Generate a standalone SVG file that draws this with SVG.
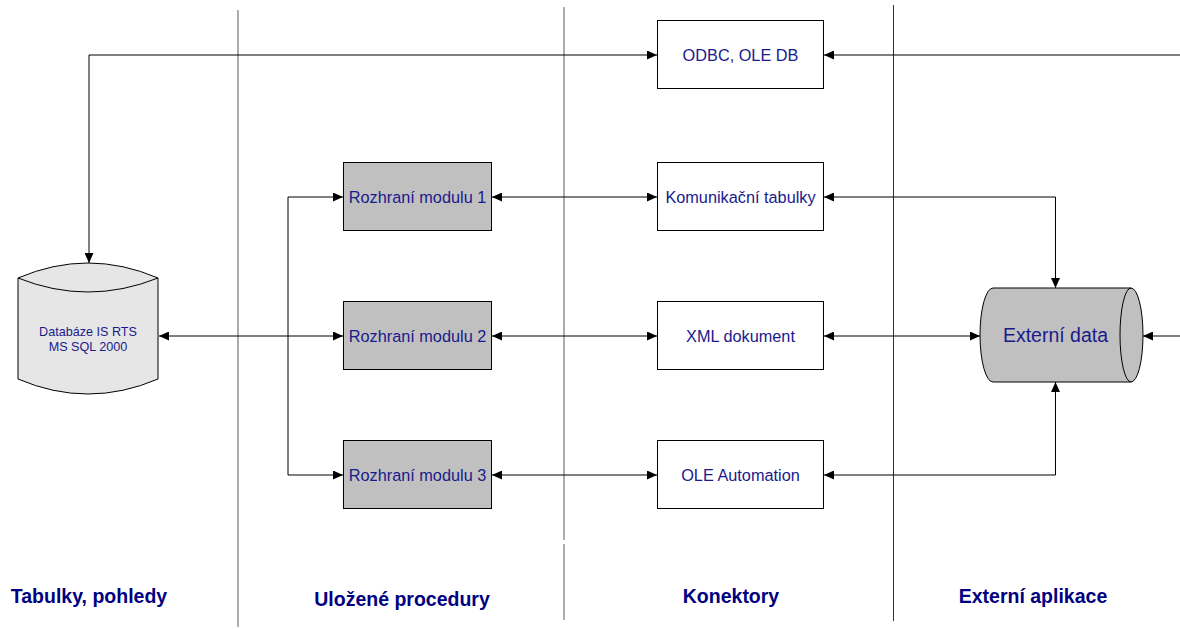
<svg xmlns="http://www.w3.org/2000/svg" width="1180" height="629" viewBox="0 0 1180 629">
<style>
.box{fill:#ffffff;stroke:#000;stroke-width:1}
.grey{fill:#c0c0c0;stroke:#000;stroke-width:1}
.t{font-family:"Liberation Sans",Arial,sans-serif;font-size:16.3px;fill:#1a1a8c;text-anchor:middle}
.lbl{font-family:"Liberation Sans",Arial,sans-serif;font-size:19.5px;font-weight:bold;fill:#000080;text-anchor:middle}
.c{fill:none;stroke:#000;stroke-width:1}
.div{stroke:#777;stroke-width:1.2}
</style>
<defs>
<marker id="ah" markerUnits="userSpaceOnUse" markerWidth="10" markerHeight="9" refX="10" refY="4.5" orient="auto-start-reverse">
<path d="M0,0 L10,4.5 L0,9 Z" fill="#000"/>
</marker>
</defs>
<rect width="1180" height="629" fill="#fff"/>
<g id="dividers">
<line class="div" x1="238" y1="10" x2="238" y2="627"/>
<line class="div" x1="564" y1="7" x2="564" y2="540"/>
<line class="div" x1="564" y1="544" x2="564" y2="620"/>
<line x1="893.5" y1="5" x2="893.5" y2="621" stroke="#333" stroke-width="1"/>
</g>
<g id="connectors">
<path class="c" d="M89,263 L89,55 L657,55" marker-start="url(#ah)" marker-end="url(#ah)"/>
<path class="c" d="M1180,55 L824,55" marker-end="url(#ah)"/>
<path class="c" d="M159,336 L343,336" marker-start="url(#ah)" marker-end="url(#ah)"/>
<path class="c" d="M343,197 L288,197 L288,475 L343,475" marker-start="url(#ah)" marker-end="url(#ah)"/>
<path class="c" d="M492,197 L657,197" marker-start="url(#ah)" marker-end="url(#ah)"/>
<path class="c" d="M492,336 L657,336" marker-start="url(#ah)" marker-end="url(#ah)"/>
<path class="c" d="M492,475 L657,475" marker-start="url(#ah)" marker-end="url(#ah)"/>
<path class="c" d="M824,197 L1055.5,197 L1055.5,288" marker-start="url(#ah)" marker-end="url(#ah)"/>
<path class="c" d="M824,336 L980,336" marker-start="url(#ah)" marker-end="url(#ah)"/>
<path class="c" d="M824,475 L1055.5,475 L1055.5,382" marker-start="url(#ah)" marker-end="url(#ah)"/>
<path class="c" d="M1180,336 L1143,336" marker-end="url(#ah)"/>
</g>
<g id="db">
<path d="M18,278 Q88,248 158,278 L158,379 Q88,409 18,379 Z" fill="#e6e6e6" stroke="#000" stroke-width="1"/>
<path d="M18,278 Q88,306 158,278" fill="none" stroke="#000" stroke-width="1"/>
<text class="t" style="font-size:12.6px" x="88" y="336">Databáze IS RTS</text>
<text class="t" style="font-size:12.6px" x="88" y="351">MS SQL 2000</text>
</g>
<g id="odbc">
<rect class="box" x="657.5" y="20.5" width="166" height="68"/>
<text class="t" x="740.5" y="61">ODBC, OLE DB</text>
</g>
<g id="modul1">
<rect class="grey" x="343.5" y="162.5" width="148" height="68"/>
<text class="t" x="417.5" y="203">Rozhraní modulu 1</text>
</g>
<g id="modul2">
<rect class="grey" x="343.5" y="301.5" width="148" height="68"/>
<text class="t" x="417.5" y="342">Rozhraní modulu 2</text>
</g>
<g id="modul3">
<rect class="grey" x="343.5" y="440.5" width="148" height="68"/>
<text class="t" x="417.5" y="481">Rozhraní modulu 3</text>
</g>
<g id="komunikacni">
<rect class="box" x="657.5" y="162.5" width="166" height="68"/>
<text class="t" x="740.5" y="203">Komunikační tabulky</text>
</g>
<g id="xml">
<rect class="box" x="657.5" y="301.5" width="166" height="68"/>
<text class="t" x="740.5" y="342">XML dokument</text>
</g>
<g id="oleauto">
<rect class="box" x="657.5" y="440.5" width="166" height="68"/>
<text class="t" x="740.5" y="481">OLE Automation</text>
</g>
<g id="externi">
<path d="M993,288 L1131,288 A12,47 0 0 1 1131,382 L993,382 A13,47 0 0 1 993,288 Z" fill="#c0c0c0" stroke="#000" stroke-width="1"/>
<path d="M1131,288 A11,47 0 0 0 1131,382" fill="none" stroke="#000" stroke-width="1"/>
<text class="t" style="font-size:19.5px" x="1055.5" y="342">Externí data</text>
</g>
<g id="labels">
<text class="lbl" x="89" y="603">Tabulky, pohledy</text>
<text class="lbl" x="402" y="606">Uložené procedury</text>
<text class="lbl" x="731" y="603">Konektory</text>
<text class="lbl" x="1033" y="603">Externí aplikace</text>
</g>
</svg>
